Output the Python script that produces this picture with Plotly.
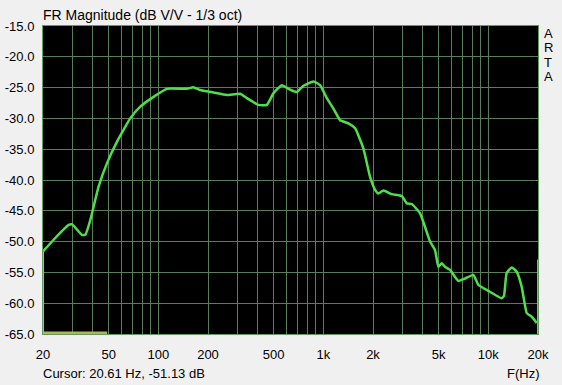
import plotly.graph_objects as go

# Frequency response data (Hz, dB)
freq_hz = [20, 23.2, 28.6, 30.0, 34.4, 36.1, 38.7, 43.4, 48.8, 56.1, 67.6, 77.7, 93.5,
           112.7, 149, 163, 179, 216, 260, 313, 344, 404, 455, 499, 561, 615, 691,
           758, 871, 956, 1050, 1151, 1264, 1419, 1558, 1750, 1920, 2059, 2158,
           2312, 2600, 2988, 3204, 3436, 3856, 4436, 4754, 4980, 5220, 5466, 5860,
           6578, 7212, 8114, 8690, 10000, 12050, 12440, 12914, 13858, 14858,
           15920, 17086, 18312, 19640]
mag_db = [-51.6, -49.7, -47.3, -47.2, -48.9, -48.9, -46.5, -41.1, -37.3, -33.8,
          -30.0, -28.1, -26.5, -25.2, -25.2, -24.95, -25.4, -25.8, -26.2, -26.0,
          -26.7, -27.8, -27.8, -25.9, -24.6, -25.2, -25.7, -24.7, -24.0, -24.6,
          -26.7, -28.4, -30.3, -30.8, -31.6, -34.9, -39.5, -41.6, -42.2, -41.7,
          -42.3, -42.6, -43.8, -43.9, -45.4, -50.0, -51.4, -54.1, -53.5, -54.1,
          -54.6, -56.4, -56.0, -55.4, -57.0, -58.0, -59.2, -58.8, -55.1, -54.2,
          -54.9, -57.3, -61.6, -62.2, -63.2]

# Edge markers (vertical segments at range ends)
left_edge_f = [20, 20]
left_edge_db = [-65, -51.6]
right_edge_f = [20000, 20000]
right_edge_db = [-65, -52.9]

# Yellow reference segment near the bottom
ref_f = [20, 49]
ref_db = [-64.8, -64.8]

# Axis ticks
x_grid = [20, 30, 40, 50, 60, 70, 80, 90, 100, 200, 300, 400, 500, 600, 700, 800,
          900, 1000, 2000, 3000, 4000, 5000, 6000, 7000, 8000, 9000, 10000, 20000]
x_labels = {20: "20", 50: "50", 100: "100", 200: "200", 500: "500", 1000: "1k",
            2000: "2k", 5000: "5k", 10000: "10k", 20000: "20k"}
y_ticks = [-15, -20, -25, -30, -35, -40, -45, -50, -55, -60, -65]
y_labels = ["-15.0", "-20.0", "-25.0", "-30.0", "-35.0", "-40.0", "-45.0",
            "-50.0", "-55.0", "-60.0", "-65.0"]

title_text = "FR Magnitude (dB V/V - 1/3 oct)"
cursor_text = "Cursor: 20.61 Hz, -51.13 dB"
x_title = "F(Hz)"
brand = "ARTA"

FONT = "Liberation Sans, Arial, sans-serif"
GRID = "#5a7e5a"
CURVE = "#4ee04a"

fig = go.Figure()
fig.add_trace(go.Scatter(x=ref_f, y=ref_db, mode="lines",
                         line=dict(color="#b4b45a", width=2.5), hoverinfo="skip"))
fig.add_trace(go.Scatter(x=left_edge_f, y=left_edge_db, mode="lines",
                         line=dict(color="#7ad87a", width=2), hoverinfo="skip"))
fig.add_trace(go.Scatter(x=right_edge_f, y=right_edge_db, mode="lines",
                         line=dict(color=CURVE, width=2), hoverinfo="skip"))
fig.add_trace(go.Scatter(x=freq_hz, y=mag_db, mode="lines",
                         line=dict(color=CURVE, width=2.5, shape="spline", smoothing=0.4)))

fig.update_layout(
    width=562, height=385, autosize=False,
    margin=dict(l=43, r=24, t=26, b=51, pad=0),
    paper_bgcolor="#f0f0f0", plot_bgcolor="#000000",
    showlegend=False,
    font=dict(family=FONT, size=13, color="#000000"),
)
fig.update_xaxes(
    type="log", range=[1.30103, 4.30103], automargin=False,
    tickvals=x_grid, ticktext=[x_labels.get(v, "") for v in x_grid],
    showgrid=True, gridcolor=GRID, gridwidth=1,
    showline=True, linecolor="#5f9a5f", linewidth=1, mirror=True,
    ticks="", ticklabelstandoff=8, zeroline=False,
    tickfont=dict(family=FONT, size=13),
)
fig.update_yaxes(
    range=[-65, -15], tickvals=y_ticks, ticktext=y_labels, automargin=False,
    showgrid=True, gridcolor=GRID, gridwidth=1,
    showline=True, linecolor="#5f9a5f", linewidth=1, mirror=True,
    ticks="", ticklabelstandoff=5, zeroline=False,
    tickfont=dict(family=FONT, size=13),
)

fig.add_annotation(text=title_text, xref="paper", yref="paper", x=0, y=1,
                   xanchor="left", yanchor="bottom", yshift=1, xshift=-2,
                   showarrow=False, font=dict(family=FONT, size=14))
fig.add_annotation(text=cursor_text, xref="paper", yref="paper", x=0, y=0,
                   xanchor="left", yanchor="middle", yshift=-39, xshift=-2,
                   showarrow=False, font=dict(family=FONT, size=13))
fig.add_annotation(text=x_title, xref="paper", yref="paper", x=1, y=0,
                   xanchor="right", yanchor="middle", xshift=4, yshift=-39,
                   showarrow=False, font=dict(family=FONT, size=13))
for i, ch in enumerate(brand):
    fig.add_annotation(text=ch, xref="paper", yref="paper", x=1, y=1,
                       xanchor="center", yanchor="middle", xshift=10,
                       yshift=-7 - 14.5 * i, showarrow=False,
                       font=dict(family=FONT, size=13))

fig.write_html("out.html")
